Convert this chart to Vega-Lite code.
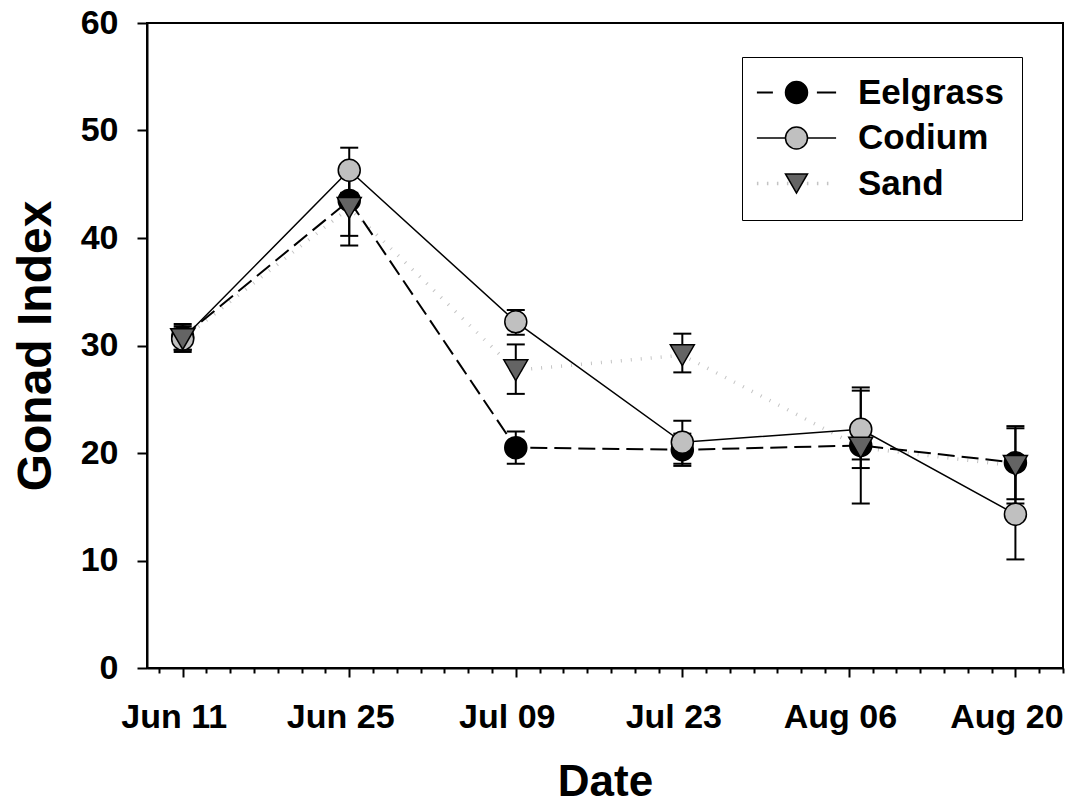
{
  "$schema": "https://vega.github.io/schema/vega-lite/v6.json",
  "width": 916,
  "height": 645,
  "autosize": {"type": "none"},
  "padding": {"left": 147, "top": 23, "right": 5, "bottom": 136},
  "background": "white",
  "data": {
    "values": [
      {"series": "Eelgrass", "date": "2009-06-11", "mean": 30.8, "lo": 29.6, "hi": 32.0},
      {"series": "Eelgrass", "date": "2009-06-25", "mean": 43.5, "lo": 40.2, "hi": 46.8},
      {"series": "Eelgrass", "date": "2009-07-09", "mean": 20.5, "lo": 19.0, "hi": 22.0},
      {"series": "Eelgrass", "date": "2009-07-23", "mean": 20.3, "lo": 18.8, "hi": 21.8},
      {"series": "Eelgrass", "date": "2009-08-07", "mean": 20.7, "lo": 15.3, "hi": 26.1},
      {"series": "Eelgrass", "date": "2009-08-20", "mean": 19.1, "lo": 15.7, "hi": 22.5},
      {"series": "Codium", "date": "2009-06-11", "mean": 30.6, "lo": 29.4, "hi": 31.8},
      {"series": "Codium", "date": "2009-06-25", "mean": 46.3, "lo": 44.2, "hi": 48.4},
      {"series": "Codium", "date": "2009-07-09", "mean": 32.2, "lo": 31.0, "hi": 33.3},
      {"series": "Codium", "date": "2009-07-23", "mean": 21.0, "lo": 19.0, "hi": 23.0},
      {"series": "Codium", "date": "2009-08-07", "mean": 22.2, "lo": 18.6, "hi": 25.8},
      {"series": "Codium", "date": "2009-08-20", "mean": 14.3, "lo": 10.1, "hi": 18.5},
      {"series": "Sand", "date": "2009-06-11", "mean": 30.6, "lo": 29.6, "hi": 31.6},
      {"series": "Sand", "date": "2009-06-25", "mean": 42.8, "lo": 39.3, "hi": 46.3},
      {"series": "Sand", "date": "2009-07-09", "mean": 27.7, "lo": 25.5, "hi": 30.1},
      {"series": "Sand", "date": "2009-07-23", "mean": 29.1, "lo": 27.5, "hi": 31.1},
      {"series": "Sand", "date": "2009-08-07", "mean": 20.5, "lo": 19.4, "hi": 21.6},
      {"series": "Sand", "date": "2009-08-20", "mean": 18.8, "lo": 15.3, "hi": 22.3}
    ]
  },
  "config": {
    "font": "Liberation Sans",
    "view": {"stroke": "black", "strokeWidth": 2},
    "axis": {
      "labelFont": "Liberation Sans", "labelFontWeight": "bold", "labelFontSize": 34, "labelColor": "black",
      "titleFont": "Liberation Sans", "titleFontWeight": "bold", "titleColor": "black",
      "domainColor": "black", "domainWidth": 2, "tickColor": "black", "tickWidth": 2, "grid": false
    },
    "axisX": {"tickSize": 9, "labelPadding": 23, "titlePadding": 26, "titleFontSize": 44},
    "axisY": {"tickSize": 10, "labelPadding": 19, "titlePadding": 20, "titleFontSize": 48}
  },
  "resolve": {"axis": {"x": "independent"}},
  "layer": [
    {
      "mark": {"type": "rule", "color": "black", "strokeWidth": 2},
      "encoding": {
        "x": {
          "field": "date", "type": "temporal",
          "scale": {"type": "utc", "nice": false, "domain": [{"year": 2009, "month": 6, "date": 8, "utc": true}, {"year": 2009, "month": 8, "date": 24, "utc": true}]},
          "axis": {
            "title": "Date", "format": "%b %d", "orient": "bottom", "labelOffset": -9,
            "values": [
              {"year": 2009, "month": 6, "date": 11, "utc": true},
              {"year": 2009, "month": 6, "date": 25, "utc": true},
              {"year": 2009, "month": 7, "date": 9, "utc": true},
              {"year": 2009, "month": 7, "date": 23, "utc": true},
              {"year": 2009, "month": 8, "date": 6, "utc": true},
              {"year": 2009, "month": 8, "date": 20, "utc": true}
            ]
          }
        },
        "y": {"field": "lo", "type": "quantitative", "title": "Gonad Index", "scale": {"domain": [0, 60], "nice": false}, "axis": {"values": [0, 10, 20, 30, 40, 50, 60], "title": "Gonad Index"}},
        "y2": {"field": "hi"}
      }
    },
    {
      "mark": {"type": "tick", "orient": "horizontal", "size": 18, "thickness": 2, "color": "black", "opacity": 1},
      "encoding": {
        "x": {
          "field": "date", "type": "temporal",
          "axis": {
            "title": null, "labels": false, "domain": false, "tickSize": 5, "orient": "bottom",
            "values": [
              {"year": 2009, "month": 6, "date": 9, "utc": true},
              {"year": 2009, "month": 6, "date": 13, "utc": true},
              {"year": 2009, "month": 6, "date": 15, "utc": true},
              {"year": 2009, "month": 6, "date": 17, "utc": true},
              {"year": 2009, "month": 6, "date": 19, "utc": true},
              {"year": 2009, "month": 6, "date": 21, "utc": true},
              {"year": 2009, "month": 6, "date": 23, "utc": true},
              {"year": 2009, "month": 6, "date": 27, "utc": true},
              {"year": 2009, "month": 6, "date": 29, "utc": true},
              {"year": 2009, "month": 7, "date": 1, "utc": true},
              {"year": 2009, "month": 7, "date": 3, "utc": true},
              {"year": 2009, "month": 7, "date": 5, "utc": true},
              {"year": 2009, "month": 7, "date": 7, "utc": true},
              {"year": 2009, "month": 7, "date": 11, "utc": true},
              {"year": 2009, "month": 7, "date": 13, "utc": true},
              {"year": 2009, "month": 7, "date": 15, "utc": true},
              {"year": 2009, "month": 7, "date": 17, "utc": true},
              {"year": 2009, "month": 7, "date": 19, "utc": true},
              {"year": 2009, "month": 7, "date": 21, "utc": true},
              {"year": 2009, "month": 7, "date": 25, "utc": true},
              {"year": 2009, "month": 7, "date": 27, "utc": true},
              {"year": 2009, "month": 7, "date": 29, "utc": true},
              {"year": 2009, "month": 7, "date": 31, "utc": true},
              {"year": 2009, "month": 8, "date": 2, "utc": true},
              {"year": 2009, "month": 8, "date": 4, "utc": true},
              {"year": 2009, "month": 8, "date": 8, "utc": true},
              {"year": 2009, "month": 8, "date": 10, "utc": true},
              {"year": 2009, "month": 8, "date": 12, "utc": true},
              {"year": 2009, "month": 8, "date": 14, "utc": true},
              {"year": 2009, "month": 8, "date": 16, "utc": true},
              {"year": 2009, "month": 8, "date": 18, "utc": true},
              {"year": 2009, "month": 8, "date": 22, "utc": true},
              {"year": 2009, "month": 8, "date": 24, "utc": true}
            ]
          }
        },
        "y": {"field": "lo", "type": "quantitative", "title": "Gonad Index"}
      }
    },
    {
      "mark": {"type": "tick", "orient": "horizontal", "size": 18, "thickness": 2, "color": "black", "opacity": 1},
      "encoding": {
        "x": {"field": "date", "type": "temporal", "axis": null},
        "y": {"field": "hi", "type": "quantitative", "title": "Gonad Index"}
      }
    },
    {
      "transform": [{"filter": "datum.series === 'Sand'"}],
      "mark": {"type": "line", "strokeWidth": 3.5, "strokeDash": [1, 9], "strokeCap": "butt"},
      "encoding": {
        "x": {"field": "date", "type": "temporal", "axis": null},
        "y": {"field": "mean", "type": "quantitative", "title": "Gonad Index"},
        "stroke": {
          "field": "series", "type": "nominal", "sort": ["Eelgrass", "Codium", "Sand"],
          "scale": {"range": ["black", "black", "#c4c4c4"]},
          "legend": {
            "orient": "none", "legendX": 595, "legendY": 34, "title": null, "zindex": 1,
            "padding": 18, "rowPadding": 9.5, "symbolType": "M-3.3,0H3.3", "symbolSize": 576,
            "symbolOffset": 19, "labelOffset": 44, "labelFont": "Liberation Sans", "labelFontWeight": "bold",
            "labelFontSize": 35, "labelOpacity": 0, "labelLimit": 400,
            "encode": {"symbols": {"update": {
              "strokeDash": {"signal": "datum.value === 'Eelgrass' ? [16,44,20,20] : (datum.value === 'Sand' ? [1.5,8.5] : [1,0])"},
              "strokeWidth": {"signal": "datum.value === 'Sand' ? 3.5 : (datum.value === 'Eelgrass' ? 2 : 1.5)"},
              "fill": {"value": "transparent"}, "opacity": {"value": 1}
            }}}
          }
        }
      }
    },
    {
      "transform": [{"filter": "datum.series === 'Eelgrass'"}],
      "mark": {"type": "line", "strokeWidth": 2, "strokeDash": [17, 7], "strokeCap": "butt"},
      "encoding": {
        "x": {"field": "date", "type": "temporal", "axis": null},
        "y": {"field": "mean", "type": "quantitative", "title": "Gonad Index"},
        "stroke": {"field": "series", "type": "nominal", "sort": ["Eelgrass", "Codium", "Sand"], "scale": {"range": ["black", "black", "#c4c4c4"]}}
      }
    },
    {
      "transform": [{"filter": "datum.series === 'Codium'"}],
      "mark": {"type": "line", "strokeWidth": 1.5},
      "encoding": {
        "x": {"field": "date", "type": "temporal", "axis": null},
        "y": {"field": "mean", "type": "quantitative", "title": "Gonad Index"},
        "stroke": {"field": "series", "type": "nominal", "sort": ["Eelgrass", "Codium", "Sand"], "scale": {"range": ["black", "black", "#c4c4c4"]}}
      }
    },
    {
      "mark": {"type": "point", "filled": true, "opacity": 1, "stroke": "black", "strokeWidth": 1.5},
      "encoding": {
        "x": {"field": "date", "type": "temporal", "axis": null},
        "y": {"field": "mean", "type": "quantitative", "title": "Gonad Index"},
        "fill": {
          "field": "series", "type": "nominal",
          "scale": {"domain": ["Eelgrass", "Codium", "Sand"], "range": ["black", "#c0c0c0", "#646464"]},
          "legend": {
            "orient": "none", "legendX": 595, "legendY": 34, "title": null, "zindex": 2,
            "padding": 18, "rowPadding": 9.5, "symbolSize": 484, "symbolOffset": 19, "labelOffset": 44,
            "labelFont": "Liberation Sans", "labelFontWeight": "bold", "labelFontSize": 35, "labelColor": "black", "labelLimit": 400,
            "strokeColor": "black",
            "encode": {"symbols": {"update": {"stroke": {"value": "black"}, "strokeWidth": {"value": 1.5}, "opacity": {"value": 1}}}}
          }
        },
        "shape": {
          "field": "series", "type": "nominal",
          "scale": {"domain": ["Eelgrass", "Codium", "Sand"], "range": ["circle", "circle", "triangle-down"]},
          "legend": {
            "orient": "none", "legendX": 595, "legendY": 34, "title": null, "zindex": 2,
            "padding": 18, "rowPadding": 9.5, "symbolSize": 484, "symbolOffset": 19, "labelOffset": 44,
            "labelFont": "Liberation Sans", "labelFontWeight": "bold", "labelFontSize": 35, "labelColor": "black", "labelLimit": 400,
            "strokeColor": "black",
            "encode": {"symbols": {"update": {"stroke": {"value": "black"}, "strokeWidth": {"value": 1.5}, "opacity": {"value": 1}}}}
          }
        },
        "size": {"condition": {"test": "datum.series === 'Sand'", "value": 576}, "value": 484}
      }
    }
  ]
}
